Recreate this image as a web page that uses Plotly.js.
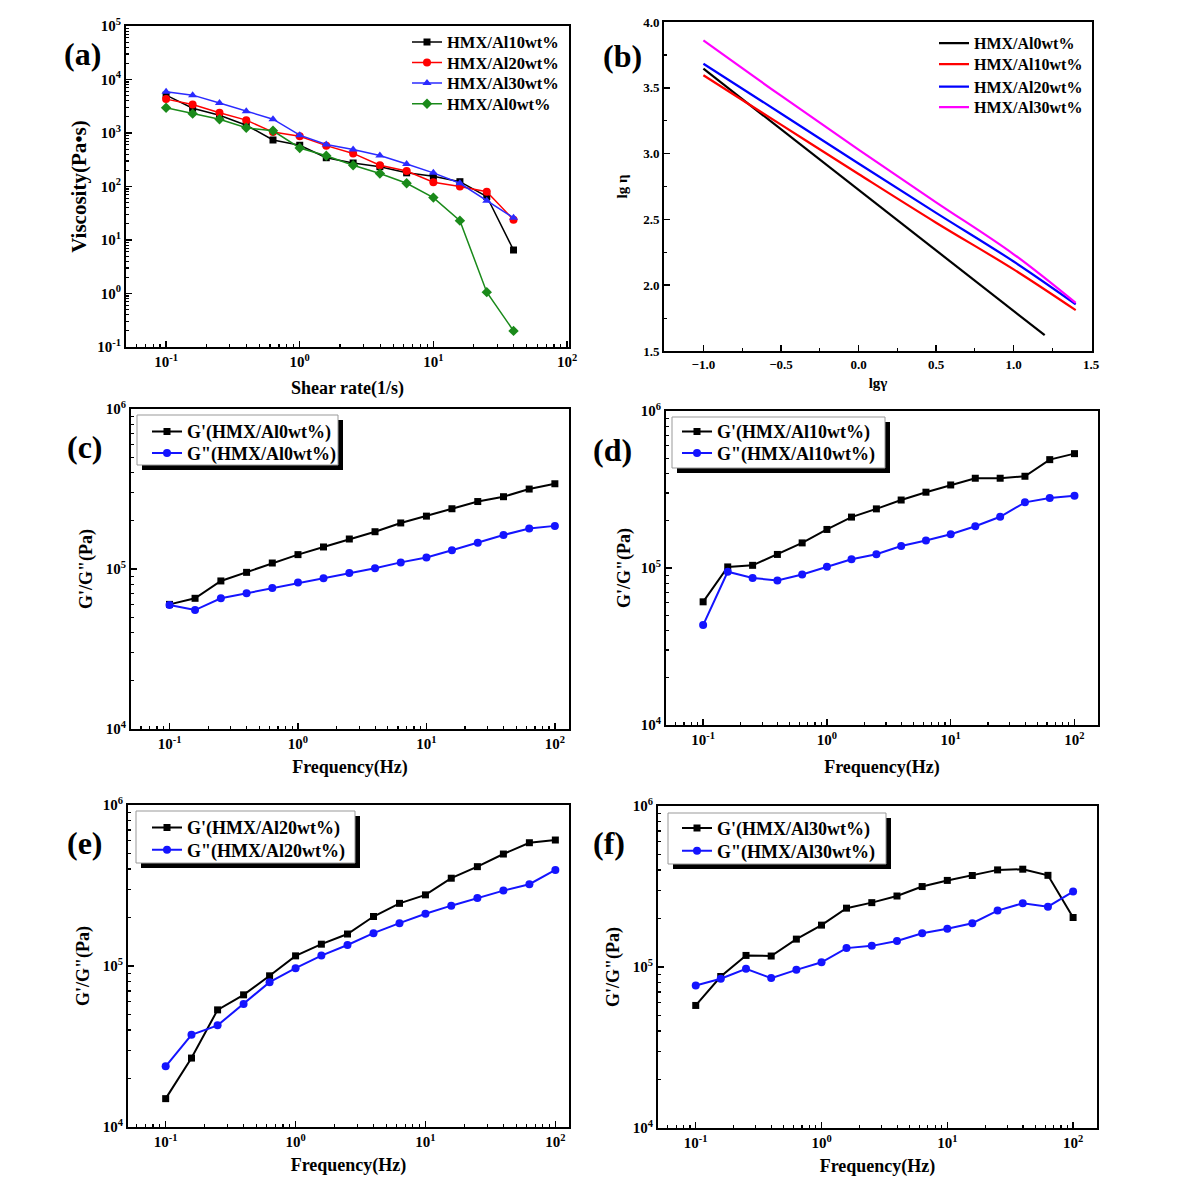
<!DOCTYPE html>
<html><head><meta charset="utf-8">
<script src="https://cdn.plot.ly/plotly-3.0.1.min.js"></script>
<style>html,body{margin:0;padding:0;background:#fff}#chart{width:1200px;height:1197px}</style>
</head><body><div id="chart"></div>
<script>
// ---------- data ----------
const shearRate = [0.1,0.158,0.251,0.398,0.631,1,1.58,2.51,3.98,6.31,10,15.8,25.1,39.8];
const viscAl10 = [5100,2900,2150,1400,740,590,345,275,235,180,155,123,65,6.5];
const viscAl20 = [4300,3400,2400,1740,1040,870,580,415,250,195,120,100,80,24];
const viscAl30 = [5900,5100,3650,2550,1810,910,610,490,380,263,180,115,54,26];
const viscAl0  = [2960,2300,1810,1250,1100,525,375,250,175,115,62,23,1.06,0.2];

const lgGammaAl0 = [-1.0, 1.2];
const lgEtaAl0   = [3.645, 1.62];
const lgGammaFit = [-1.0,-0.5,0,0.5,1.0,1.4];
const lgEtaAl10  = [3.595,3.22,2.845,2.475,2.12,1.81];
const lgEtaAl20  = [3.683,3.305,2.925,2.55,2.18,1.855];
const lgEtaAl30  = [3.86,3.44,3.03,2.63,2.235,1.865];

const freq = [0.1,0.158,0.251,0.398,0.631,1,1.58,2.51,3.98,6.31,10,15.8,25.1,39.8,63.1,100];
const gp0   = [60100,65600,84200,95300,109000,123000,137300,154000,171000,194000,214000,238000,264000,283000,316000,341000];
const gpp0  = [59600,55400,65600,70500,76100,82200,87500,94400,101000,110000,118000,131000,146000,163000,179000,186000];
const gp10  = [60900,101600,104000,122000,144500,176000,211000,238000,271000,304000,338000,373000,373000,384000,490000,535000];
const gpp10 = [43300,94600,86500,83200,90900,101700,113800,122500,138000,149600,164000,184500,212000,262000,279000,289000];
const gp20  = [15000,26800,53400,66200,86900,115600,136600,158000,203000,245000,276600,351000,414000,496000,583000,606000];
const gpp20 = [23800,37400,42800,58000,79400,97000,116000,135000,160000,184600,211000,237000,264000,294000,322000,395000];
const gp30  = [57700,87300,118000,117000,149000,182000,232000,251000,276000,316000,345000,370000,401000,405000,371000,203000];
const gpp30 = [76700,84500,97500,85300,96000,107000,131000,135300,145000,162000,172600,187000,224000,249000,237000,294000];

const xDecadeVals = [0.1,1,10,100];
const xDecadeText = ['10<sup>-1</sup>','10<sup>0</sup>','10<sup>1</sup>','10<sup>2</sup>'];
const yDecadeValsA = [0.1,1,10,100,1000,10000,100000];
const yDecadeTextA = ['10<sup>-1</sup>','10<sup>0</sup>','10<sup>1</sup>','10<sup>2</sup>','10<sup>3</sup>','10<sup>4</sup>','10<sup>5</sup>'];
const yDecadeValsG = [10000,100000,1000000];
const yDecadeTextG = ['10<sup>4</sup>','10<sup>5</sup>','10<sup>6</sup>'];

// ---------- layout helpers ----------
const W = 1200, H = 1197;
const PX = v => v / W, PY = v => 1 - v / H;
const FONT = 'Liberation Serif, "Times New Roman", serif';
function minorLog(lo, hi) {
  const out = [];
  for (let e = lo; e < hi; e++) for (let d = 2; d <= 9; d++) out.push(d * Math.pow(10, e));
  return out;
}
function baseAxis(o) {
  return Object.assign({
    showline: true, linecolor: '#000', linewidth: 2, mirror: true,
    ticks: 'inside', ticklen: 6, tickwidth: 1.5, tickcolor: '#000',
    showgrid: false, zeroline: false,
    tickfont: {family: FONT, size: 15, color: '#000', weight: 'bold'}
  }, o);
}
function logX(dom, range, anchor, title, standoff) {
  return baseAxis({
    type: 'log', domain: dom, range: range, anchor: anchor,
    tickmode: 'array', tickvals: xDecadeVals, ticktext: xDecadeText,
    minor: {tickmode: 'array', tickvals: minorLog(-2, 3), ticks: 'inside', ticklen: 3, tickwidth: 1.2, tickcolor: '#000'},
    title: {text: title, font: {family: FONT, size: 18, color: '#000', weight: 'bold'}, standoff: standoff}
  });
}
function logY(dom, range, anchor, vals, text, title, standoff, tsize) {
  return baseAxis({
    type: 'log', domain: dom, range: range, anchor: anchor,
    tickmode: 'array', tickvals: vals, ticktext: text,
    minor: {tickmode: 'array', tickvals: minorLog(-2, 7), ticks: 'inside', ticklen: 3, tickwidth: 1.2, tickcolor: '#000'},
    title: {text: title, font: {family: FONT, size: tsize || 18, color: '#000', weight: 'bold'}, standoff: standoff}
  });
}

const traces = [];
const legends = {};
let legendCount = 0;
function legendAt(xpx, ypx, size) {
  return {x: PX(xpx), y: PY(ypx), xanchor: 'left', yanchor: 'middle', bgcolor: 'rgba(0,0,0,0)', borderwidth: 0,
    font: {family: FONT, size: size, color: '#000', weight: 'bold'}, tracegroupgap: 0, itemwidth: 30};
}
// every trace gets its own one-entry legend so rows can be spaced as in the reference
function add(t, lx, ly, lsize) {
  legendCount++;
  const key = legendCount === 1 ? 'legend' : 'legend' + legendCount;
  legends[key] = legendAt(lx, ly, lsize);
  t.legend = key;
  traces.push(t);
}
const BLUE = '#1414ff';

// (a)
add({x: shearRate, y: viscAl10, name: 'HMX/Al10wt%', mode: 'lines+markers', line: {color: '#000', width: 1.5}, marker: {symbol: 'square', size: 7, color: '#000'}, xaxis: 'x', yaxis: 'y'}, 407, 42.3, 16.5);
add({x: shearRate, y: viscAl20, name: 'HMX/Al20wt%', mode: 'lines+markers', line: {color: '#ff0000', width: 1.5}, marker: {symbol: 'circle', size: 8, color: '#ff0000'}, xaxis: 'x', yaxis: 'y'}, 407, 62.7, 16.5);
add({x: shearRate, y: viscAl30, name: 'HMX/Al30wt%', mode: 'lines+markers', line: {color: '#2b2bff', width: 1.5}, marker: {symbol: 'triangle-up', size: 8, color: '#2b2bff'}, xaxis: 'x', yaxis: 'y'}, 407, 83.3, 16.5);
add({x: shearRate, y: viscAl0, name: 'HMX/Al0wt%', mode: 'lines+markers', line: {color: '#1a8a1a', width: 1.5}, marker: {symbol: 'diamond', size: 8, color: '#1a8a1a'}, xaxis: 'x', yaxis: 'y'}, 407, 104, 16.5);

// (b)
add({x: lgGammaAl0, y: lgEtaAl0, name: 'HMX/Al0wt%', mode: 'lines', line: {color: '#000', width: 2.2}, xaxis: 'x2', yaxis: 'y2'}, 934, 43.3, 16);
add({x: lgGammaFit, y: lgEtaAl10, name: 'HMX/Al10wt%', mode: 'lines', line: {color: '#ff0000', width: 2.2, shape: 'spline'}, xaxis: 'x2', yaxis: 'y2'}, 934, 64.3, 16);
add({x: lgGammaFit, y: lgEtaAl20, name: 'HMX/Al20wt%', mode: 'lines', line: {color: '#0000ff', width: 2.2, shape: 'spline'}, xaxis: 'x2', yaxis: 'y2'}, 934, 86.7, 16);
add({x: lgGammaFit, y: lgEtaAl30, name: 'HMX/Al30wt%', mode: 'lines', line: {color: '#ff00ff', width: 2.2, shape: 'spline'}, xaxis: 'x2', yaxis: 'y2'}, 934, 107.3, 16);

// (c)-(f)
const gPanels = [
  {gp: gp0, gpp: gpp0, tag: 'Al0', ax: 3, lx: 147, ly: [431.7, 453.3]},
  {gp: gp10, gpp: gpp10, tag: 'Al10', ax: 4, lx: 677, ly: [431.7, 453.3]},
  {gp: gp20, gpp: gpp20, tag: 'Al20', ax: 5, lx: 147, ly: [827.7, 850]},
  {gp: gp30, gpp: gpp30, tag: 'Al30', ax: 6, lx: 677, ly: [828.3, 851]}
];
gPanels.forEach(p => {
  add({x: freq, y: p.gp, name: "G'(HMX/" + p.tag + "wt%)", mode: 'lines+markers', line: {color: '#000', width: 2}, marker: {symbol: 'square', size: 7, color: '#000'}, xaxis: 'x' + p.ax, yaxis: 'y' + p.ax}, p.lx, p.ly[0], 18);
  add({x: freq, y: p.gpp, name: 'G"(HMX/' + p.tag + 'wt%)', mode: 'lines+markers', line: {color: BLUE, width: 2}, marker: {symbol: 'circle', size: 8, color: BLUE}, xaxis: 'x' + p.ax, yaxis: 'y' + p.ax}, p.lx, p.ly[1], 18);
});

function boxShapes(x0, y0, x1, y1) {
  return [
    {type: 'rect', xref: 'paper', yref: 'paper', x0: PX(x0 + 5), x1: PX(x1 + 5), y0: PY(y0 + 5), y1: PY(y1 + 5), fillcolor: '#000', line: {width: 0}, layer: 'above'},
    {type: 'rect', xref: 'paper', yref: 'paper', x0: PX(x0), x1: PX(x1), y0: PY(y0), y1: PY(y1), fillcolor: '#fff', line: {color: '#999', width: 1}, layer: 'above'}
  ];
}

function label(t, xpx, ypx) {
  return {text: t, xref: 'paper', yref: 'paper', x: PX(xpx), y: PY(ypx), xanchor: 'center', yanchor: 'middle', showarrow: false,
    font: {family: FONT, size: 32, color: '#000', weight: 'bold'}};
}

const layout = Object.assign({
  width: W, height: H, margin: {l: 0, r: 0, t: 0, b: 0},
  paper_bgcolor: '#fff', plot_bgcolor: '#fff', showlegend: true,
  font: {family: FONT, color: '#000'},
  xaxis: logX([PX(126), PX(569)], [-1.3, 2.015], 'y', 'Shear rate(1/s)', 12),
  yaxis: logY([PY(347), PY(26)], [-1, 5], 'x', yDecadeValsA, yDecadeTextA, 'Viscosity(Pa•s)', 5, 21),
  xaxis2: baseAxis({domain: [PX(664), PX(1092)], range: [-1.254, 1.505], anchor: 'y2', dtick: 0.5, tick0: 0, tickformat: '.1f',
    tickfont: {family: FONT, size: 13, color: '#000', weight: 'bold'},
    minor: {dtick: 0.25, ticks: 'inside', ticklen: 3, tickwidth: 1.2, tickcolor: '#000'},
    title: {text: 'lgγ', font: {family: FONT, size: 15, color: '#000', weight: 'bold'}, standoff: 7}}),
  yaxis2: baseAxis({domain: [PY(351), PY(22)], range: [1.5, 4.0], anchor: 'x2', dtick: 0.5, tick0: 0, tickformat: '.1f',
    tickfont: {family: FONT, size: 13, color: '#000', weight: 'bold'},
    minor: {dtick: 0.25, ticks: 'inside', ticklen: 3, tickwidth: 1.2, tickcolor: '#000'},
    title: {text: 'lg η', font: {family: FONT, size: 15, color: '#000', weight: 'bold'}, standoff: 12}}),
  xaxis3: logX([PX(131), PX(569)], [-1.3, 2.11], 'y3', 'Frequency(Hz)', 9),
  yaxis3: logY([PY(729), PY(409)], [4, 6], 'x3', yDecadeValsG, yDecadeTextG, 'G\'/G"(Pa)', 8),
  xaxis4: logX([PX(666), PX(1098)], [-1.3, 2.19], 'y4', 'Frequency(Hz)', 13),
  yaxis4: logY([PY(725), PY(411)], [4, 6], 'x4', yDecadeValsG, yDecadeTextG, 'G\'/G"(Pa)', 5),
  xaxis5: logX([PX(128), PX(569)], [-1.29, 2.105], 'y5', 'Frequency(Hz)', 9),
  yaxis5: logY([PY(1127), PY(805)], [4, 6], 'x5', yDecadeValsG, yDecadeTextG, 'G\'/G"(Pa)', 8),
  xaxis6: logX([PX(658), PX(1097)], [-1.3, 2.19], 'y6', 'Frequency(Hz)', 9),
  yaxis6: logY([PY(1128), PY(806)], [4, 6], 'x6', yDecadeValsG, yDecadeTextG, 'G\'/G"(Pa)', 8),
  shapes: [].concat(
    boxShapes(137, 415, 338, 465),
    boxShapes(672, 417, 885, 468),
    boxShapes(136, 811, 355, 863),
    boxShapes(668, 813, 886, 864)
  ),
  annotations: [
    label('(a)', 82, 54), label('(b)', 622, 56), label('(c)', 85, 447),
    label('(d)', 612, 450), label('(e)', 85, 843), label('(f)', 609, 843)
  ]
}, legends);

Plotly.newPlot('chart', traces, layout, {displayModeBar: false, staticPlot: true});
</script></body></html>
